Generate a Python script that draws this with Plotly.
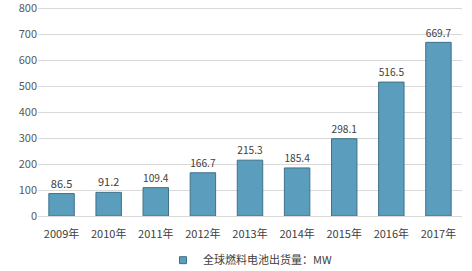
import plotly.graph_objects as go

years = ["2009年", "2010年", "2011年", "2012年", "2013年", "2014年", "2015年", "2016年", "2017年"]
shipments = [86.5, 91.2, 109.4, 166.7, 215.3, 185.4, 298.1, 516.5, 669.7]
y_ticks = [0, 100, 200, 300, 400, 500, 600, 700, 800]
series_name = "全球燃料电池出货量：MW"

font_family = "Noto Sans CJK SC, Noto Sans, sans-serif"
bar_color = "#5a9dbd"
edge_color = "#3f7189"

fig = go.Figure()
fig.add_trace(go.Bar(
    x=years,
    y=shipments,
    name=series_name,
    showlegend=False,
    text=[f"{v:.1f}" for v in shipments],
    textposition="outside",
    cliponaxis=False,
    textfont=dict(size=11, color="#404040", family=font_family),
    marker=dict(color=bar_color, line=dict(color=edge_color, width=1)),
    width=0.54,
))
# legend entry with a small square swatch
fig.add_trace(go.Scatter(
    x=[None], y=[None], mode="markers", name=series_name,
    marker=dict(symbol="square", size=7, color=bar_color, line=dict(color=edge_color, width=1)),
))

fig.update_layout(
    width=472, height=271,
    margin=dict(l=38, r=10, t=6, b=55, autoexpand=False),
    paper_bgcolor="white",
    plot_bgcolor="white",
    font=dict(family=font_family, size=11, color="#595959"),
    showlegend=True,
    legend=dict(orientation="h", x=0.5, xanchor="center", yref="container", y=0.04,
                yanchor="middle", font=dict(size=11, color="#404040"),
                itemwidth=30, bgcolor="rgba(0,0,0,0)"),
    xaxis=dict(showgrid=False, showline=True, linecolor="#d9d9d9", ticks="outside",
               ticklen=8, tickcolor="rgba(0,0,0,0)",
               tickfont=dict(size=11, color="#404040")),
    yaxis=dict(range=[0, 810], tickmode="array", tickvals=y_ticks, showgrid=True,
               gridcolor="#d9d9d9", zeroline=False, ticks="", ticklabeloverflow="allow",
               tickfont=dict(size=11, color="#595959")),
)

fig.write_html("out.html")
